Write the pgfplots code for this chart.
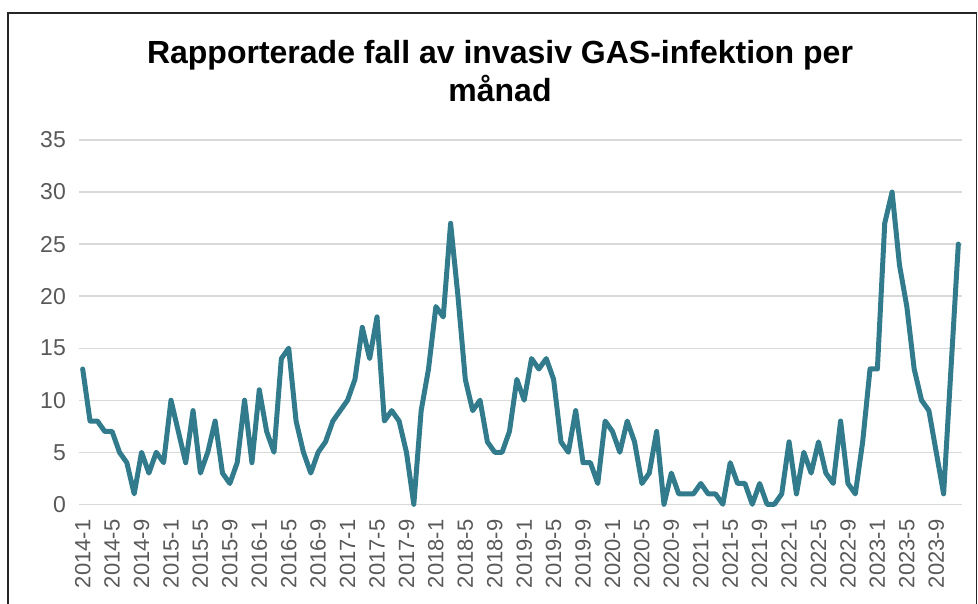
\documentclass[border=0pt]{standalone}
\usepackage{fontspec}
\setmainfont{Liberation Sans}
\usepackage{pgfplots}
\pgfplotsset{compat=1.18}
\definecolor{linec}{HTML}{317B8C}
\definecolor{gridc}{HTML}{D9D9D9}
\definecolor{tickc}{HTML}{595959}
\begin{document}
\begin{tikzpicture}
\path[use as bounding box] (0,0) rectangle (978bp,604bp);
\draw[line width=1.2bp, color=black!85] (8bp,-5bp) -- (8bp,591bp) -- (976.5bp,591bp) -- (976.5bp,-5bp);
\node[font=\fontsize{32bp}{38bp}\selectfont\bfseries, align=center] at (500bp,533bp) {Rapporterade fall av invasiv GAS-infektion per\\månad};
\begin{axis}[
  at={(79bp,99.7bp)}, anchor=south west, scale only axis,
  width=883bp, height=364.3bp,
  xmin=-0.5, xmax=119.5, ymin=0, ymax=35,
  ytick={0,5,...,35},
  xtick={0,4,...,116},
  xticklabels={2014-1,2014-5,2014-9,2015-1,2015-5,2015-9,2016-1,2016-5,2016-9,2017-1,2017-5,2017-9,2018-1,2018-5,2018-9,2019-1,2019-5,2019-9,2020-1,2020-5,2020-9,2021-1,2021-5,2021-9,2022-1,2022-5,2022-9,2023-1,2023-5,2023-9},
  axis line style={draw=none},
  major tick length=0pt,
  ymajorgrids,
  grid style={gridc, line width=1.3bp},
  tick label style={text=tickc},
  yticklabel style={font=\fontsize{23bp}{27bp}\selectfont, anchor=east, inner sep=0pt},
  yticklabel shift=13bp,
  xticklabel style={font=\fontsize{22bp}{26bp}\selectfont, rotate=90, anchor=east, inner sep=0pt},
  xticklabel shift=15bp,
  /pgf/number format/assume math mode=true,
  clip=false,
]
\addplot[linec, line width=5bp, line join=round, line cap=round] coordinates {
(0,13)(1,8)(2,8)(3,7)(4,7)(5,5)(6,4)(7,1)(8,5)(9,3)(10,5)(11,4)
(12,10)(13,7)(14,4)(15,9)(16,3)(17,5)(18,8)(19,3)(20,2)(21,4)(22,10)(23,4)
(24,11)(25,7)(26,5)(27,14)(28,15)(29,8)(30,5)(31,3)(32,5)(33,6)(34,8)(35,9)
(36,10)(37,12)(38,17)(39,14)(40,18)(41,8)(42,9)(43,8)(44,5)(45,0)(46,9)(47,13)
(48,19)(49,18)(50,27)(51,20)(52,12)(53,9)(54,10)(55,6)(56,5)(57,5)(58,7)(59,12)
(60,10)(61,14)(62,13)(63,14)(64,12)(65,6)(66,5)(67,9)(68,4)(69,4)(70,2)(71,8)
(72,7)(73,5)(74,8)(75,6)(76,2)(77,3)(78,7)(79,0)(80,3)(81,1)(82,1)(83,1)
(84,2)(85,1)(86,1)(87,0)(88,4)(89,2)(90,2)(91,0)(92,2)(93,0)(94,0)(95,1)
(96,6)(97,1)(98,5)(99,3)(100,6)(101,3)(102,2)(103,8)(104,2)(105,1)(106,6)(107,13)
(108,13)(109,27)(110,30)(111,23)(112,19)(113,13)(114,10)(115,9)(116,5)(117,1)(118,13)(119,25)
};
\end{axis}
\end{tikzpicture}
\end{document}
